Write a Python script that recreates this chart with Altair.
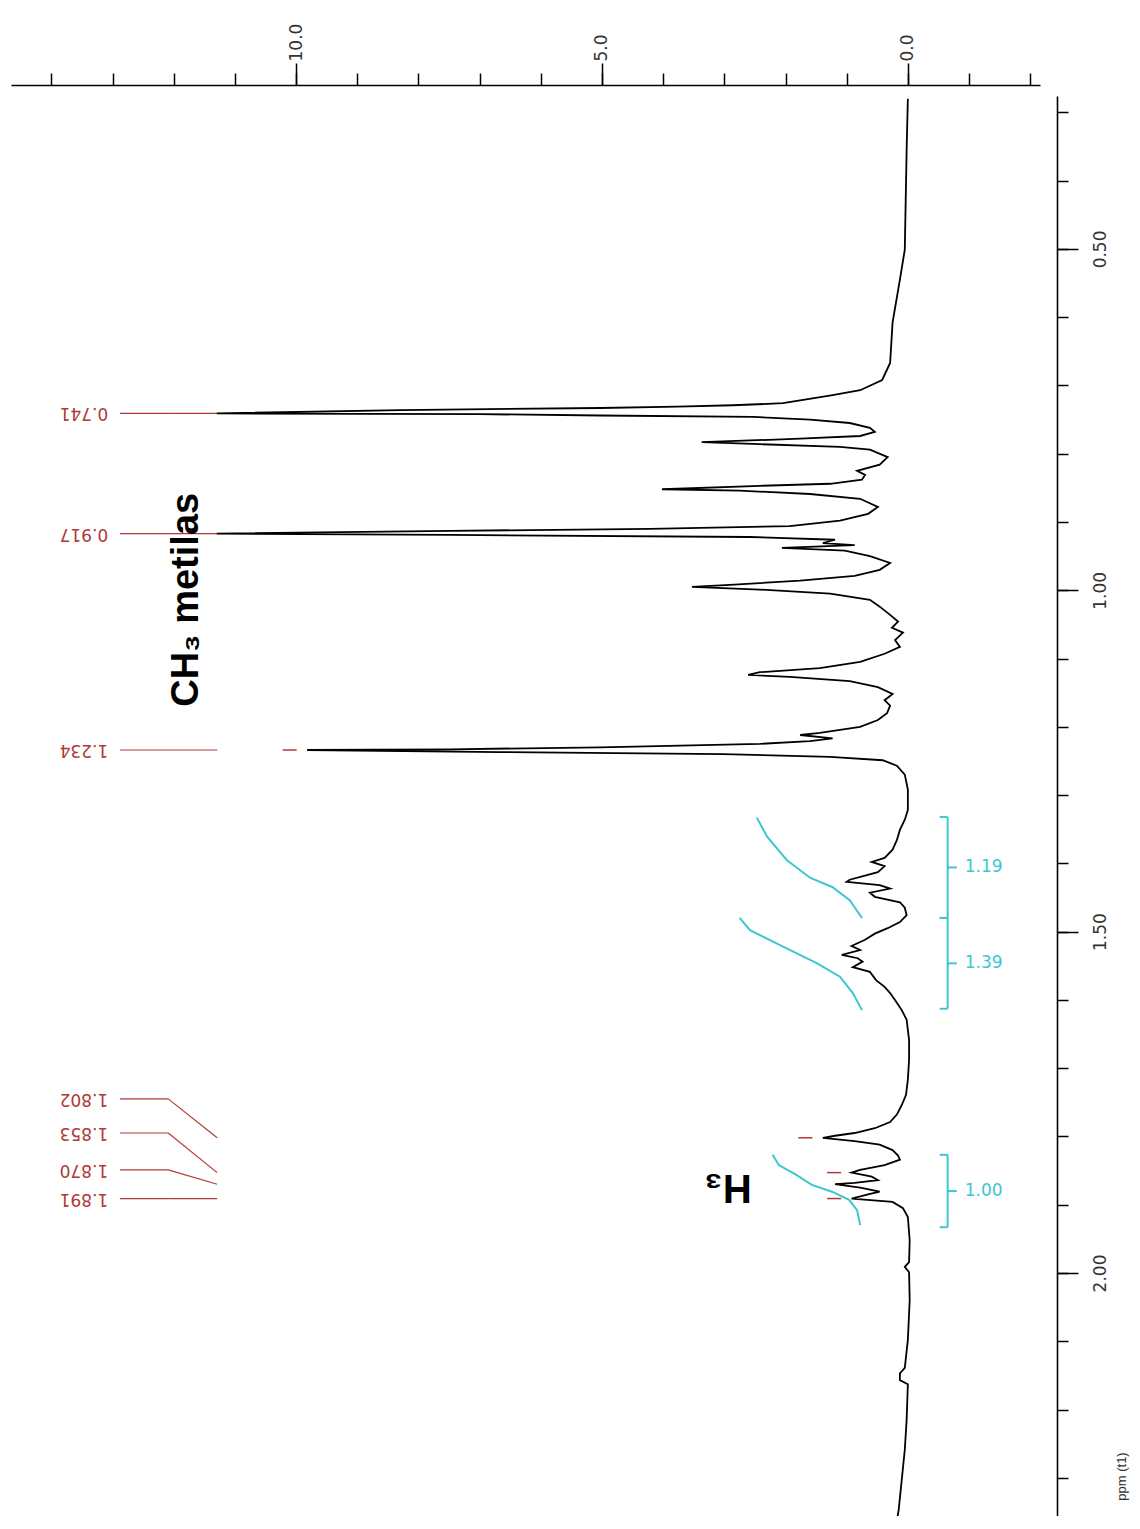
import altair as alt
import pandas as pd

# ---------------- data (ppm, intensity) ----------------
spectrum_points = [
    (0.280, 0.00), (0.355, 0.02), (0.501, 0.05), (0.545, 0.13), (0.608, 0.25),
    (0.667, 0.29), (0.692, 0.42), (0.707, 0.78), (0.714, 1.23), (0.726, 2.04),
    (0.729, 2.86), (0.731, 3.77), (0.733, 5.03), (0.736, 8.30), (0.741, 11.30),
    (0.742, 7.00), (0.744, 5.03), (0.746, 2.53), (0.750, 1.60), (0.755, 0.95),
    (0.762, 0.62), (0.768, 0.54), (0.774, 0.78), (0.778, 1.76), (0.783, 3.37),
    (0.786, 2.42), (0.790, 1.11), (0.794, 0.62), (0.805, 0.33), (0.816, 0.46),
    (0.825, 0.83), (0.831, 0.70), (0.838, 0.75), (0.844, 1.27), (0.847, 2.42),
    (0.852, 4.02), (0.854, 2.75), (0.859, 1.60), (0.866, 0.78), (0.878, 0.49),
    (0.888, 0.65), (0.898, 1.11), (0.906, 1.93), (0.910, 4.22), (0.913, 7.48),
    (0.917, 11.30), (0.919, 7.48), (0.922, 2.58), (0.926, 1.19), (0.931, 1.39),
    (0.934, 0.87), (0.938, 2.06), (0.942, 1.03), (0.950, 0.62), (0.960, 0.29),
    (0.970, 0.46), (0.979, 0.87), (0.986, 1.76), (0.992, 2.91), (0.995, 3.53),
    (0.999, 2.42), (1.005, 1.27), (1.014, 0.62), (1.024, 0.46), (1.036, 0.29),
    (1.046, 0.16), (1.055, 0.26), (1.062, 0.08), (1.073, 0.21), (1.083, 0.13),
    (1.093, 0.38), (1.105, 0.78), (1.114, 1.44), (1.120, 2.42), (1.124, 2.61),
    (1.127, 1.93), (1.133, 0.95), (1.142, 0.49), (1.152, 0.25), (1.161, 0.38),
    (1.169, 0.29), (1.180, 0.34), (1.190, 0.49), (1.200, 0.78), (1.209, 1.44),
    (1.212, 1.76), (1.217, 1.23), (1.221, 1.60), (1.225, 2.42), (1.230, 5.03),
    (1.233, 7.48), (1.234, 9.82), (1.237, 6.67), (1.240, 3.02), (1.244, 1.27),
    (1.249, 0.41), (1.257, 0.18), (1.270, 0.05), (1.292, 0.00), (1.322, 0.00),
    (1.336, 0.05), (1.351, 0.13), (1.366, 0.18), (1.380, 0.25), (1.392, 0.38),
    (1.398, 0.59), (1.404, 0.38), (1.413, 0.49), (1.418, 0.70), (1.424, 0.95),
    (1.427, 1.00), (1.432, 0.46), (1.437, 0.29), (1.443, 0.62), (1.449, 0.54),
    (1.457, 0.13), (1.465, 0.05), (1.476, 0.02), (1.486, 0.13), (1.495, 0.33),
    (1.503, 0.54), (1.512, 0.70), (1.521, 0.92), (1.527, 0.78), (1.534, 1.08),
    (1.539, 0.82), (1.544, 0.74), (1.552, 0.90), (1.559, 0.62), (1.571, 0.52),
    (1.581, 0.38), (1.590, 0.29), (1.600, 0.21), (1.615, 0.10), (1.629, 0.02),
    (1.659, -0.02), (1.688, -0.02), (1.717, 0.00), (1.739, 0.03), (1.754, 0.10),
    (1.768, 0.18), (1.779, 0.29), (1.788, 0.54), (1.795, 0.87), (1.799, 1.19),
    (1.802, 1.39), (1.807, 0.87), (1.812, 0.46), (1.820, 0.25), (1.828, 0.16),
    (1.834, 0.13), (1.842, 0.38), (1.849, 0.78), (1.853, 0.92), (1.859, 0.59),
    (1.864, 0.49), (1.868, 0.87), (1.870, 1.19), (1.875, 0.78), (1.881, 0.46),
    (1.885, 0.65), (1.891, 0.92), (1.896, 0.25), (1.905, 0.08), (1.918, 0.00),
    (1.952, -0.03), (1.984, -0.02), (1.991, 0.05), (1.999, -0.02), (2.040, -0.03),
    (2.098, 0.00), (2.139, 0.05), (2.147, 0.13), (2.157, 0.13), (2.163, 0.00),
    (2.215, 0.02), (2.259, 0.05), (2.303, 0.10), (2.347, 0.15), (2.375, 0.20),
]

peak_ppm = [0.741, 0.917, 1.234, 1.802, 1.853, 1.870, 1.891]
peak_label_ppm = [0.741, 0.917, 1.234, 1.745, 1.795, 1.849, 1.891]
peak_height = [11.30, 11.30, 9.82, 1.39, 0.92, 1.19, 0.92]
peak_text = ["0.741", "0.917", "1.234", "1.802", "1.853", "1.870", "1.891"]
peak_marker_visible = [False, False, True, True, True, False, True]

integral_start = [1.332, 1.480, 1.827]
integral_end = [1.480, 1.613, 1.933]
integral_text = ["1.19", "1.39", "1.00"]
integral_curve_ppm = [
    [1.333, 1.361, 1.395, 1.421, 1.435, 1.454, 1.480],
    [1.480, 1.498, 1.522, 1.546, 1.566, 1.590, 1.615],
    [1.827, 1.842, 1.856, 1.871, 1.881, 1.893, 1.908, 1.930],
]
integral_curve_int = [
    [2.47, 2.30, 1.98, 1.60, 1.23, 0.95, 0.75],
    [2.75, 2.58, 2.04, 1.49, 1.11, 0.90, 0.75],
    [2.21, 2.11, 1.83, 1.57, 1.24, 0.96, 0.83, 0.78],
]

annotation_text = ["CH\u2083 metilas", "H\u2083"]
annotation_int = [11.78, 2.94]
annotation_ppm = [1.014, 1.874]

x_ticks_minor = list(range(-2, 15))
x_ticks_major = [0, 5, 10]
y_ticks_minor = [round(0.3 + 0.1 * i, 1) for i in range(21)]
y_ticks_major = [0.5, 1.0, 1.5, 2.0]

# ---------------- styling constants ----------------
RED = "#b03a35"
CYAN = "#3ec6d0"
AXIS_GRAY = "#333333"
LBL_X_TEXT, LBL_X0, LBL_X1, LBL_X2 = 13.07, 12.88, 12.09, 11.29
BR_X_CAP, BR_X_LINE, BR_X_TICK, BR_X_TEXT = -0.52, -0.65, -0.80, -0.93

# ---------------- tables ----------------
spec_df = pd.DataFrame({
    "ppm": [p for p, _ in spectrum_points],
    "intensity": [v for _, v in spectrum_points],
    "idx": list(range(len(spectrum_points))),
})

seg_rows = []
for p, lp in zip(peak_ppm, peak_label_ppm):
    seg_rows.append({"x": LBL_X0, "x2": LBL_X1, "y": lp, "y2": lp})
    seg_rows.append({"x": LBL_X1, "x2": LBL_X2, "y": lp, "y2": p})
seg_df = pd.DataFrame(seg_rows)

dash_rows = []
for p, h, vis in zip(peak_ppm, peak_height, peak_marker_visible):
    if vis:
        dash_rows.append({"x": h + 0.17, "x2": h + 0.40, "y": p})
dash_df = pd.DataFrame(dash_rows)

plabel_df = pd.DataFrame({"text": peak_text, "y": peak_label_ppm, "x": [LBL_X_TEXT] * len(peak_text)})

curve_rows = []
for cid, (ps, vs) in enumerate(zip(integral_curve_ppm, integral_curve_int)):
    for k, (p, v) in enumerate(zip(ps, vs)):
        curve_rows.append({"curve": cid, "ppm": p, "intensity": v, "k": k})
curve_df = pd.DataFrame(curve_rows)

br_rows = []
mid = []
for s, e in zip(integral_start, integral_end):
    m = (s + e) / 2
    mid.append(m)
    br_rows.append({"x": BR_X_LINE, "x2": BR_X_LINE, "y": s, "y2": e})
    br_rows.append({"x": BR_X_CAP, "x2": BR_X_LINE, "y": s, "y2": s})
    br_rows.append({"x": BR_X_CAP, "x2": BR_X_LINE, "y": e, "y2": e})
    br_rows.append({"x": BR_X_LINE, "x2": BR_X_TICK, "y": m, "y2": m})
br_df = pd.DataFrame(br_rows)
itext_df = pd.DataFrame({"text": integral_text, "y": mid, "x": [BR_X_TEXT] * len(mid)})

ann_df = pd.DataFrame({"text": annotation_text, "x": annotation_int, "y": annotation_ppm})

# ---------------- scales & axes ----------------
xs = alt.Scale(domain=[-2.16, 14.66], reverse=True, nice=False, zero=False)
ys = alt.Scale(domain=[0.276, 2.356], reverse=True, nice=False, zero=False)

x_minor_axis = alt.Axis(orient="top", values=x_ticks_minor, labels=False, tickSize=12, tickWidth=1.5,
                        tickColor="black", domainColor="black", domainWidth=1.6, grid=False,
                        title=None, offset=11)
x_major_axis = alt.Axis(orient="top", values=x_ticks_major, tickSize=22, tickWidth=1.5, tickColor="black",
                        domain=False, grid=False, title=None, offset=11, format=".1f",
                        labelAngle=270, labelAlign="left", labelBaseline="middle", labelPadding=2,
                        labelFont="DejaVu Sans", labelFontSize=17, labelColor=AXIS_GRAY)
y_minor_axis = alt.Axis(orient="right", values=y_ticks_minor, labels=False, tickSize=11, tickWidth=1.5,
                        tickColor="black", domainColor="black", domainWidth=1.6, grid=False,
                        title=None, offset=17)
y_major_axis = alt.Axis(orient="right", values=y_ticks_major, tickSize=21, tickWidth=1.5, tickColor="black",
                        domain=False, grid=False, offset=17, format=".2f",
                        labelAngle=270, labelAlign="center", labelBaseline="top", labelPadding=14,
                        labelFont="DejaVu Sans", labelFontSize=17, labelColor=AXIS_GRAY,
                        title="ppm (t1)", titleAngle=270, titleX=64, titleY=1380,
                        titleAlign="center", titleBaseline="middle", titleFont="Liberation Sans",
                        titleFontSize=13, titleFontWeight="normal", titleColor=AXIS_GRAY)

# ---------------- layers ----------------
axes_minor = alt.Chart(spec_df).mark_line(opacity=0).encode(
    x=alt.X("intensity:Q", scale=xs, axis=x_minor_axis),
    y=alt.Y("ppm:Q", scale=ys, axis=y_minor_axis),
    order="idx:Q",
)

spectrum = alt.Chart(spec_df).mark_line(color="black", strokeWidth=1.8).encode(
    x=alt.X("intensity:Q", scale=xs, axis=x_major_axis),
    y=alt.Y("ppm:Q", scale=ys, axis=y_major_axis),
    order="idx:Q",
)

curves = alt.Chart(curve_df).mark_line(color=CYAN, strokeWidth=2).encode(
    x=alt.X("intensity:Q", scale=xs, axis=None),
    y=alt.Y("ppm:Q", scale=ys, axis=None),
    detail="curve:N",
    order="k:Q",
)

brackets = alt.Chart(br_df).mark_rule(color=CYAN, strokeWidth=2).encode(
    x=alt.X("x:Q", scale=xs, axis=None), x2="x2:Q",
    y=alt.Y("y:Q", scale=ys, axis=None), y2="y2:Q",
)

itexts = alt.Chart(itext_df).mark_text(color=CYAN, align="left", baseline="middle",
                                       font="DejaVu Sans", fontSize=17).encode(
    x=alt.X("x:Q", scale=xs, axis=None),
    y=alt.Y("y:Q", scale=ys, axis=None),
    text="text:N",
)

segs = alt.Chart(seg_df).mark_rule(color=RED, strokeWidth=1.2).encode(
    x=alt.X("x:Q", scale=xs, axis=None), x2="x2:Q",
    y=alt.Y("y:Q", scale=ys, axis=None), y2="y2:Q",
)

dashes = alt.Chart(dash_df).mark_rule(color=RED, strokeWidth=1.5).encode(
    x=alt.X("x:Q", scale=xs, axis=None), x2="x2:Q",
    y=alt.Y("y:Q", scale=ys, axis=None),
)

plabels = alt.Chart(plabel_df).mark_text(color=RED, angle=180, align="left", baseline="middle",
                                         font="DejaVu Sans", fontSize=17).encode(
    x=alt.X("x:Q", scale=xs, axis=None),
    y=alt.Y("y:Q", scale=ys, axis=None),
    text="text:N",
)

ann_ch3 = alt.Chart(ann_df.iloc[[0]]).mark_text(color="black", angle=270, align="center", baseline="middle",
                                               font="Liberation Sans", fontSize=38, fontWeight="bold").encode(
    x=alt.X("x:Q", scale=xs, axis=None),
    y=alt.Y("y:Q", scale=ys, axis=None),
    text="text:N",
)
ann_h3 = alt.Chart(ann_df.iloc[[1]]).mark_text(color="black", angle=180, align="center", baseline="middle",
                                              font="Liberation Sans", fontSize=40, fontWeight="bold").encode(
    x=alt.X("x:Q", scale=xs, axis=None),
    y=alt.Y("y:Q", scale=ys, axis=None),
    text="text:N",
)

chart = alt.layer(
    axes_minor, spectrum, curves, brackets, itexts, segs, dashes, plabels, ann_ch3, ann_h3
).resolve_axis(x="independent", y="independent").properties(
    width=1029, height=1420,
    autosize=alt.AutoSizeParams(type="none"),
    padding={"left": 3, "top": 88, "right": 90, "bottom": 0},
    background="white",
).configure_view(strokeWidth=0)

chart.save("out.html", embed_options={"renderer": "svg", "actions": False})
